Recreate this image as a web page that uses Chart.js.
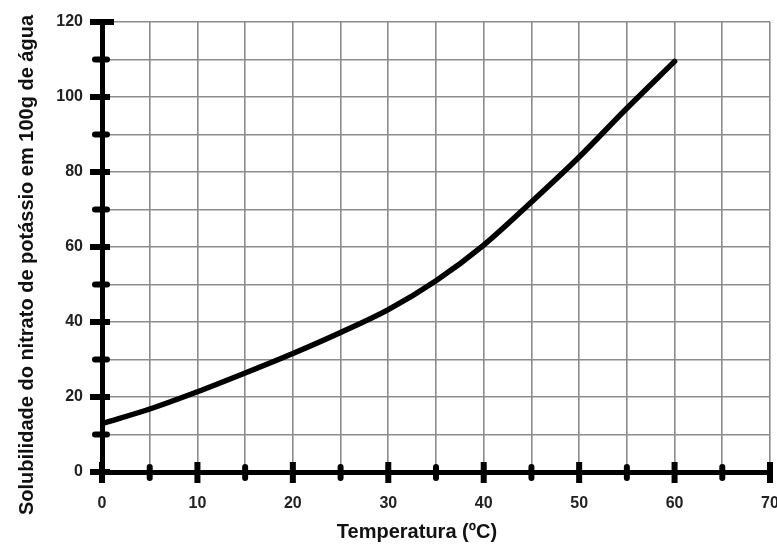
<!DOCTYPE html>
<html>
<head>
<meta charset="utf-8">
<script src="https://cdn.jsdelivr.net/npm/chart.js@4.4.1/dist/chart.umd.min.js"></script>
<style>
  html, body { margin: 0; padding: 0; background: #fff; }
  #wrap { width: 777px; height: 554px; }
</style>
</head>
<body>
<div id="wrap"><canvas id="c" width="777" height="554"></canvas></div>
<script>
// Data
const temperatures = [0, 5, 10, 15, 20, 25, 30, 35, 40, 45, 50, 55, 60];
const solubility   = [12.9, 16.8, 21.4, 26.4, 31.6, 37.2, 43.3, 51, 60.5, 72, 84, 97, 109.5];
const xTickLabels = [0, 10, 20, 30, 40, 50, 60, 70];
const yTickLabels = [0, 20, 40, 60, 80, 100, 120];
const xTitle = 'Temperatura (ºC)';
const yTitle = 'Solubilidade do nitrato de potássio em 100g de água';

const FONT = '"Liberation Sans", Arial, sans-serif';

const tickMarks = {
  id: 'tickMarks',
  afterDraw(chart) {
    const ctx = chart.ctx;
    const xs = chart.scales.x, ys = chart.scales.y;
    const area = chart.chartArea;
    ctx.save();
    ctx.fillStyle = '#000';
    ctx.strokeStyle = '#000';
    xs.ticks.forEach(t => {
      const px = xs.getPixelForValue(t.value);
      if (xTickLabels.includes(t.value)) {
        ctx.fillRect(px - 3, area.bottom - 10, 6, 21);
      } else {
        ctx.lineWidth = 6; ctx.lineCap = 'round';
        ctx.beginPath(); ctx.moveTo(px, area.bottom - 5); ctx.lineTo(px, area.bottom + 6); ctx.stroke();
      }
    });
    ys.ticks.forEach(t => {
      const py = ys.getPixelForValue(t.value);
      if (yTickLabels.includes(t.value)) {
        ctx.fillRect(area.left - 12, py - 3, t.value === 120 ? 24 : 20, 6);
      } else {
        ctx.lineWidth = 6; ctx.lineCap = 'round';
        ctx.beginPath(); ctx.moveTo(area.left - 7, py); ctx.lineTo(area.left + 5, py); ctx.stroke();
      }
    });
    // axis titles
    ctx.fillStyle = '#111';
    ctx.font = 'bold 20px ' + FONT;
    ctx.textAlign = 'center';
    ctx.textBaseline = 'middle';
    ctx.fillText(xTitle, 417, 532);
    ctx.translate(27, 265);
    ctx.rotate(-Math.PI / 2);
    ctx.fillText(yTitle, 0, 0);
    ctx.restore();
  }
};

new Chart(document.getElementById('c'), {
  type: 'line',
  data: {
    datasets: [{
      data: temperatures.map((t, i) => ({ x: t, y: solubility[i] })),
      borderColor: '#000',
      borderWidth: 5.5,
      pointRadius: 0,
      fill: false,
      cubicInterpolationMode: 'monotone',
      borderCapStyle: 'round'
    }]
  },
  options: {
    responsive: false,
    animation: false,
    layout: { padding: { top: 22, right: 7, left: 0, bottom: 0 } },
    plugins: { legend: { display: false }, tooltip: { enabled: false } },
    scales: {
      x: {
        type: 'linear', min: 0, max: 70,
        ticks: {
          stepSize: 5, autoSkip: false, maxRotation: 0, padding: 22,
          color: '#222', font: { family: FONT, size: 16, weight: 'bold' },
          callback: v => xTickLabels.includes(v) ? String(v) : ''
        },
        grid: { color: '#8c8c8c', lineWidth: 1.6, drawTicks: false },
        border: { display: true, color: '#000', width: 5 },
        afterFit(s) { s.height = 82; s.paddingLeft = 0; s.paddingRight = 0; s.paddingTop = 0; s.paddingBottom = 0; }
      },
      y: {
        type: 'linear', min: 0, max: 120,
        ticks: {
          stepSize: 10, autoSkip: false, padding: 19,
          color: '#222', font: { family: FONT, size: 16, weight: 'bold' },
          callback: v => yTickLabels.includes(v) ? String(v) : ''
        },
        grid: { color: '#8c8c8c', lineWidth: 1.6, drawTicks: false },
        border: { display: true, color: '#000', width: 5 },
        afterFit(s) { s.width = 102; s.paddingLeft = 0; s.paddingRight = 0; s.paddingTop = 0; s.paddingBottom = 0; }
      }
    }
  },
  plugins: [tickMarks]
});
</script>
</body>
</html>
